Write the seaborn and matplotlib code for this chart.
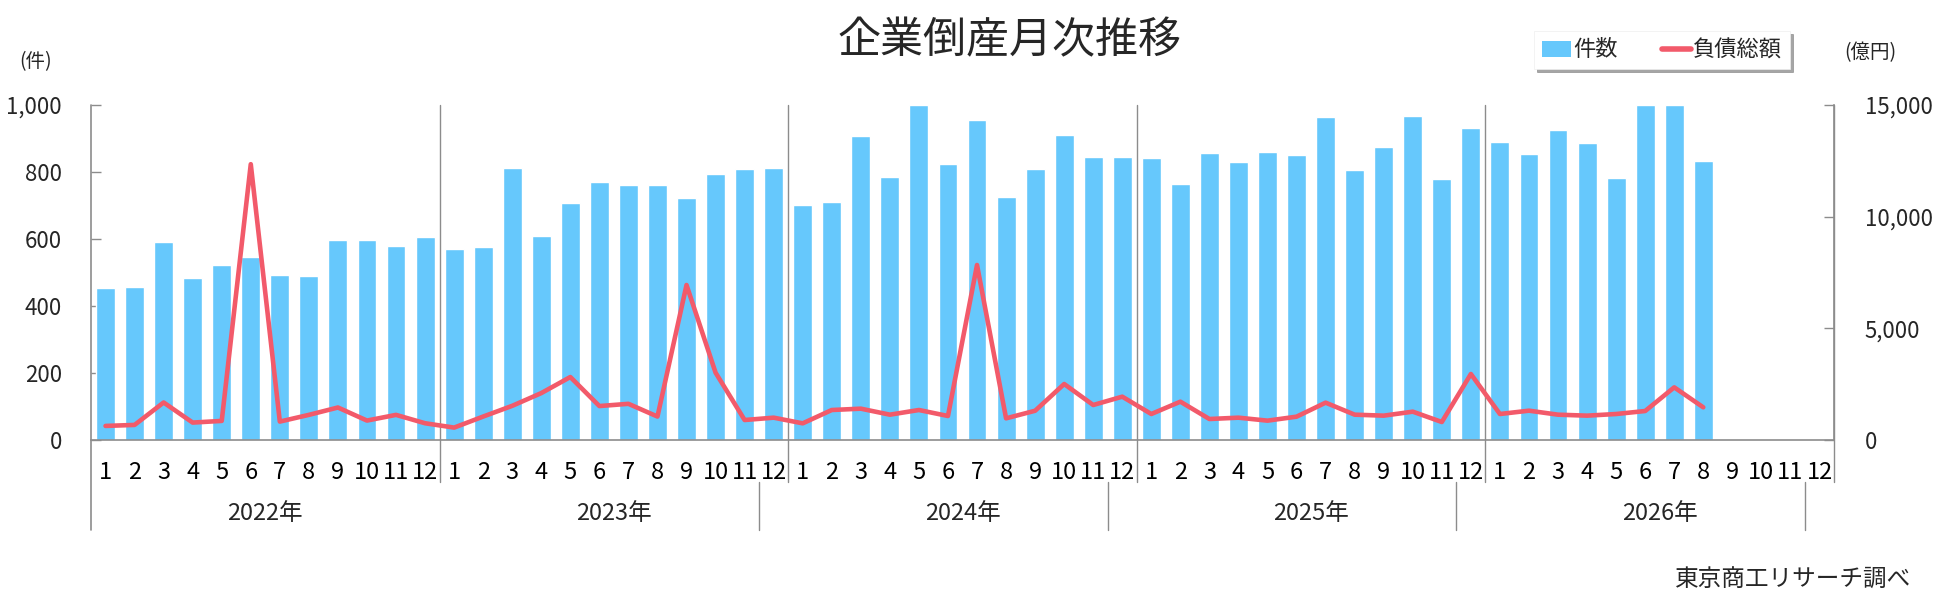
import numpy as np
import pandas as pd
import matplotlib
matplotlib.use("Agg")
import matplotlib.pyplot as plt
from matplotlib.patches import Patch
from matplotlib.lines import Line2D
from matplotlib.ticker import FuncFormatter
import seaborn as sns

# monthly corporate bankruptcies (件) and total liabilities (億円)
years = ["2022年", "2023年", "2024年", "2025年", "2026年"]
months = [str(m) for m in range(1, 13)]

count_2022 = [453, 458, 592, 485, 523, 547, 492, 491, 598, 596, 580, 607]
count_2023 = [571, 577, 811, 610, 706, 771, 760, 760, 721, 793, 808, 811]
count_2024 = [702, 711, 906, 784, 1000, 823, 954, 724, 808, 909, 844, 844]
count_2025 = [841, 765, 856, 829, 859, 851, 965, 805, 875, 968, 778, 932]
count_2026 = [890, 853, 926, 886, 781, 1000, 1000, 832, np.nan, np.nan, np.nan, np.nan]

debt_2022 = [630, 675, 1680, 780, 855, 12350, 825, 1125, 1455, 870, 1125, 750]
debt_2023 = [555, 1050, 1530, 2100, 2820, 1520, 1620, 1050, 6940, 3015, 895, 1000]
debt_2024 = [746, 1343, 1403, 1134, 1343, 1075, 7836, 970, 1310, 2507, 1567, 1940]
debt_2025 = [1164, 1716, 940, 1000, 866, 1045, 1672, 1134, 1090, 1269, 806, 2955]
debt_2026 = [1164, 1313, 1134, 1090, 1164, 1298, 2358, 1463, np.nan, np.nan, np.nan, np.nan]

counts = count_2022 + count_2023 + count_2024 + count_2025 + count_2026
debts = debt_2022 + debt_2023 + debt_2024 + debt_2025 + debt_2026
n = len(counts)

df = pd.DataFrame({
    "idx": np.arange(n),
    "count": counts,
    "debt": debts,
})

BAR = "#66c8fc"
LINE = "#f25a6a"
GRAY = "#8c8c8c"

sns.set_theme(style="white")
plt.rcParams["font.family"] = ["Noto Sans CJK JP", "DejaVu Sans"]

fig = plt.figure(figsize=(19.56, 6.0), dpi=100)
ax = fig.add_axes([91 / 1956, 1 - 440 / 600, (1834 - 91) / 1956, 335 / 600])

sns.barplot(data=df, x="idx", y="count", order=list(range(n)), color=BAR,
            width=0.65, saturation=1, errorbar=None, ax=ax)
ax.set_xlim(-0.5, n - 0.5)
ax.set_ylim(0, 1000)
ax.set_yticks(range(0, 1001, 200))
ax.yaxis.set_major_formatter(FuncFormatter(lambda v, p: f"{int(v):,}"))
ax.set_xticks(range(n))
ax.set_xticklabels(months * len(years))
ax.set_xlabel("")
ax.set_ylabel("")
ax.tick_params(axis="x", length=0, pad=15, labelsize=17, colors="black")
ax.tick_params(axis="y", direction="in", length=7, width=1, color=GRAY,
               pad=21, labelsize=16, left=True)

for s in ["top", "right", "left"]:
    ax.spines[s].set_visible(False)
ax.spines["bottom"].set_color(GRAY)
ax.spines["bottom"].set_linewidth(1.2)

# left axis line runs down through the category rows
ax.plot([0, 0], [-90 / 335, 1], transform=ax.transAxes, color=GRAY, lw=1.2, clip_on=False)
# year boundaries, through plot and month row
for b in [11.5, 23.5, 35.5, 47.5, 59.5]:
    ax.axvline(b, ymin=-42 / 335, ymax=1, color=GRAY, lw=1, clip_on=False, zorder=0.5)
# separators in the year row
for b in [22.5, 34.5, 46.5, 58.5]:
    ax.axvline(b, ymin=-90 / 335, ymax=-42 / 335, color=GRAY, lw=1, clip_on=False)
# year labels
for i, y in enumerate(years):
    ax.text(i * 12 + 5.5, -73 / 335, y, transform=ax.get_xaxis_transform(),
            ha="center", va="center", fontsize=17)

ax2 = ax.twinx()
sns.lineplot(data=df, x="idx", y="debt", color=LINE, lw=3.3, ax=ax2)
ax2.set_ylim(0, 15000)
ax2.set_xlim(-0.5, n - 0.5)
ax2.set_yticks(range(0, 15001, 5000))
ax2.yaxis.set_major_formatter(FuncFormatter(lambda v, p: f"{int(v):,}"))
ax2.set_ylabel("")
ax2.tick_params(axis="y", direction="in", length=7, width=1, color=GRAY,
                pad=22, labelsize=16, right=True)
for s in ["top", "left", "bottom"]:
    ax2.spines[s].set_visible(False)
ax2.spines["right"].set_color(GRAY)
ax2.spines["right"].set_linewidth(1.2)
ax2.spines["right"].set_bounds(0, 15000)

fig.text(1010 / 1956, 1 - 41 / 600, "企業倒産月次推移", ha="center", va="center", fontsize=31)
fig.text(36 / 1956, 1 - 62 / 600, "(件)", ha="center", va="center", fontsize=14)
fig.text(1870 / 1956, 1 - 53 / 600, "(億円)", ha="center", va="center", fontsize=14)
fig.text(1911 / 1956, 1 - 580 / 600, "東京商工リサーチ調べ", ha="right", va="center", fontsize=17)

handles = [Patch(facecolor=BAR, edgecolor="none"),
           Line2D([0], [0], color=LINE, lw=4)]
leg = fig.legend(handles, ["件数", "負債総額"], loc="center",
                 bbox_to_anchor=(1662 / 1956, 1 - 50 / 600), ncol=2,
                 frameon=True, fancybox=False, shadow=True, fontsize=16,
                 handlelength=1.3, handletextpad=0.1, columnspacing=2.0,
                 borderpad=0.35, borderaxespad=0)
leg.get_frame().set_edgecolor("#eeeeee")
leg.get_frame().set_linewidth(0.5)

fig.savefig("out.png", dpi=100)
